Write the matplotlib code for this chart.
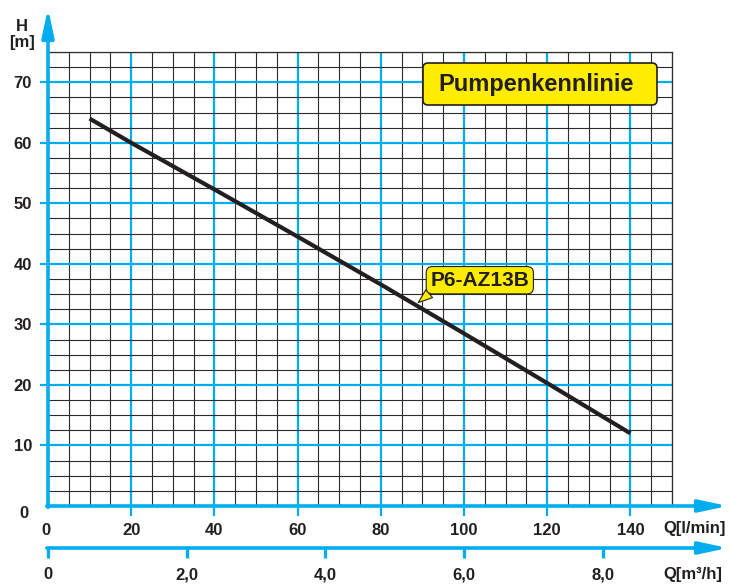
import matplotlib.pyplot as plt
from matplotlib.patches import FancyBboxPatch
from matplotlib.ticker import MultipleLocator

plt.rcParams['font.family'] = ['Liberation Sans', 'DejaVu Sans']
plt.rcParams['font.weight'] = 'bold'

# Kennlinie P6-AZ13B
q_lmin = [10, 20, 40, 60, 80, 100, 120, 140]
h_m = [64, 60, 52.3, 44.5, 36.6, 28.5, 20.3, 12]

x_ticks = [20, 40, 60, 80, 100, 120, 140]
y_ticks = [10, 20, 30, 40, 50, 60, 70]
q2_ticks = [0, 2, 4, 6, 8]
q2_labels = ['0', '2,0', '4,0', '6,0', '8,0']

blau = '#00AEEF'
dunkel = '#231F20'
gelb = '#FFED00'

fig = plt.figure(figsize=(7.3, 5.84), dpi=100)
W, H = 730, 584
L, R, T, B = 48, 672, 52, 506
ax = fig.add_axes([L / W, 1 - B / H, (R - L) / W, (B - T) / H])
ax.set_xlim(0, 150)
ax.set_ylim(0, 75)

# Raster
ax.xaxis.set_major_locator(MultipleLocator(20))
ax.xaxis.set_minor_locator(MultipleLocator(5))
ax.yaxis.set_major_locator(MultipleLocator(10))
ax.yaxis.set_minor_locator(MultipleLocator(2.5))
ax.grid(True, which='minor', color='#2b2b2b', lw=0.8)
ax.grid(True, which='major', color=blau, lw=1.6)
ax.set_axisbelow(True)

ax.set_xticks(x_ticks)
ax.set_yticks(y_ticks)
ax.tick_params(which='minor', length=0)
ax.tick_params(axis='x', which='major', direction='out', length=7, width=1.6,
               color=blau, pad=5, labelsize=12, labelcolor=dunkel)
ax.tick_params(axis='y', which='major', direction='out', length=5.5, width=1.6,
               color=blau, pad=6, labelsize=12, labelcolor=dunkel)
for lab in ax.get_xticklabels() + ax.get_yticklabels():
    lab.set_fontweight('bold')

for s in ['top', 'right']:
    ax.spines[s].set_color('#2b2b2b')
    ax.spines[s].set_linewidth(0.9)
for s in ['left', 'bottom']:
    ax.spines[s].set_visible(False)

# Achsen mit Pfeilen
pfeil = dict(arrowstyle='-|>,head_length=1.7,head_width=0.36', color=blau,
             lw=2.6, shrinkA=0, shrinkB=0, mutation_scale=10)
ax.annotate('', xy=(0, (B - 8) / (B - T)), xytext=(0, -0.003),
            xycoords='axes fraction', arrowprops=pfeil, annotation_clip=False)
ax.annotate('', xy=((728 - L) / (R - L), 0), xytext=(-0.002, 0),
            xycoords='axes fraction', arrowprops=pfeil, annotation_clip=False)

ax.text(-0.032, 0.0, '0', transform=ax.transAxes, ha='right', va='top',
        fontsize=12, color=dunkel, fontweight='bold')
ax.text(-0.003, -0.037, '0', transform=ax.transAxes, ha='center', va='top',
        fontsize=12, color=dunkel, fontweight='bold')

fig.text(22 / W, 1 - 19 / H, 'H\n[m]', ha='center', va='top', fontsize=12,
         color=dunkel, fontweight='bold', linespacing=1.1)
fig.text(663 / W, 1 - 529 / H, 'Q[l/min]', ha='left', va='center', fontsize=12,
         color=dunkel, fontweight='bold')
fig.text(663 / W, 1 - 575 / H, 'Q[m\u00b3/h]', ha='left', va='center', fontsize=12,
         color=dunkel, fontweight='bold')

# zweite Achse m3/h
ax2 = fig.add_axes([L / W, 1 - 548 / H, (R - L) / W, 0.0001])
ax2.set_xlim(0, 150 * 60 / 1000)
ax2.set_yticks([])
ax2.patch.set_visible(False)
for s in ['top', 'right', 'left', 'bottom']:
    ax2.spines[s].set_visible(False)
ax2.set_xticks(q2_ticks)
ax2.set_xticklabels(q2_labels)
ax2.tick_params(axis='x', direction='out', length=7, width=2.4, color=blau,
                pad=7, labelsize=12, labelcolor=dunkel)
for lab in ax2.get_xticklabels():
    lab.set_fontweight('bold')
ax2.annotate('', xy=((728 - L) / (R - L), 0), xytext=(-0.002, 0),
             xycoords='axes fraction', arrowprops=pfeil, annotation_clip=False)

# Kennlinie
ax.plot(q_lmin, h_m, color=dunkel, lw=3, solid_capstyle='butt', zorder=3)

# Titelbox
box = FancyBboxPatch(((423 - L) / (R - L), (B - 105) / (B - T)),
                     (657 - 423) / (R - L), (105 - 63) / (B - T),
                     boxstyle='round,pad=0,rounding_size=0.008',
                     mutation_aspect=(R - L) / (B - T),
                     transform=ax.transAxes, fc=gelb, ec=dunkel, lw=1.2,
                     zorder=4, clip_on=False)
ax.add_patch(box)
ax.text((438 - L) / (R - L), (B - 84) / (B - T), 'Pumpenkennlinie',
        transform=ax.transAxes, ha='left', va='center', fontsize=17,
        color=dunkel, fontweight='bold', zorder=5)

# Beschriftung der Kennlinie
ax.annotate('P6-AZ13B', xy=(89, 33.6), xytext=(103.8, 37.3),
            ha='center', va='center', fontsize=15, color=dunkel, fontweight='bold',
            bbox=dict(boxstyle='round,pad=0.2,rounding_size=0.3', fc=gelb,
                      ec=dunkel, lw=0.8),
            arrowprops=dict(arrowstyle='wedge,tail_width=0.5', fc=gelb, ec=dunkel,
                            lw=0.8, shrinkA=0, shrinkB=0, relpos=(0.06, 0.1)),
            zorder=5)

fig.savefig('out.png', dpi=100)
